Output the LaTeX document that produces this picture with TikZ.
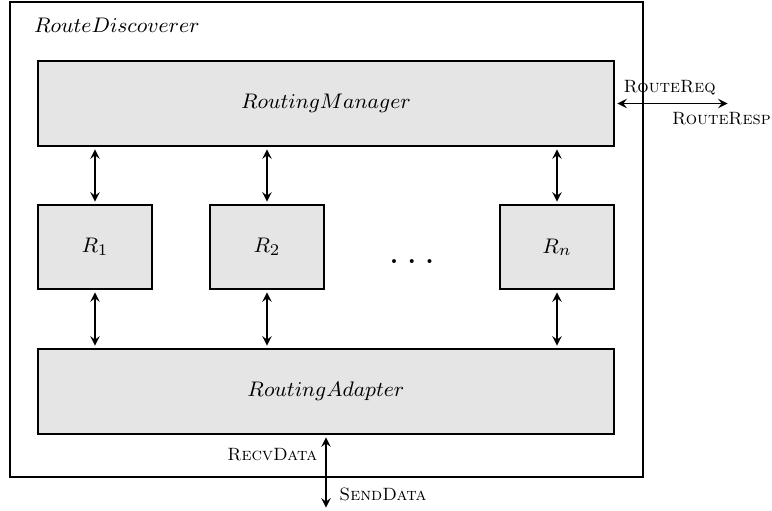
\documentclass[tikz,border=0pt]{standalone}
\usepackage{tikz}
\usetikzlibrary{positioning}

\begin{document}
\begin{tikzpicture}
		[font=\fontsize{9.5}{11}\selectfont,
		outer/.style={rectangle,draw=black,thick,
minimum width=9.495cm,minimum height=7.125cm},
		wide/.style={rectangle,draw=black,fill=black!10,thick,
minimum width=8.64cm,minimum height=1.275cm},
		router/.style={rectangle,draw=black,fill=black!10,thick,
minimum width=1.71cm,minimum height=1.26cm},
		labelstyle/.style={font=\fontsize{7.6}{9}\selectfont\scshape},
		edgestyle/.style={<->,>=stealth,shorten <=1pt,shorten >=1pt,thick}]
		\useasboundingbox (0,0) rectangle (11.58,7.65);
		\node at (4.8975, 4.0575) (disc) [outer] {};
		\node [below right=0.25cm and 0.37cm of disc.north west,anchor=north west,inner sep=0pt] (title) {$RouteDiscoverer$};
		\node at (4.89, 6.0975) (manager) [wide] {$RoutingManager$};
		\node at (4.89, 1.7775) (adapter) [wide] {$RoutingAdapter$};
		\node at (1.425, 3.945) (r1) [router] {$R_1$};
		\node at (4.005, 3.945) (r2) [router] {$R_2$};
		\node at (8.355, 3.945) (rn) [router] {$R_n$};
		\node at (6.18, 3.69) (dots) [anchor=base] {\LARGE$\dots$};
		\coordinate (ext) at (10.95, 6.0975);
		\coordinate (net) at (4.89, 0.0);
		% manager <-> routers <-> adapter
		\foreach \r in {r1,r2,rn} {
			\draw [edgestyle] (manager.south -| \r) -- (\r.north);
			\draw [edgestyle] (\r.south) -- (adapter.north -| \r);
		}
		% outside connections
		\draw [edgestyle] (manager.east) -- (ext)
			node [pos=0,above right,labelstyle] {RouteReq}
			node [pos=0.42,below right,labelstyle] {RouteResp};
		\draw [edgestyle] (adapter.south) -- (net)
			node [pos=0,below left,labelstyle,yshift=-2pt] {RecvData}
			node [pos=1,above right,labelstyle,xshift=2pt] {SendData};
	\end{tikzpicture}
\end{document}
